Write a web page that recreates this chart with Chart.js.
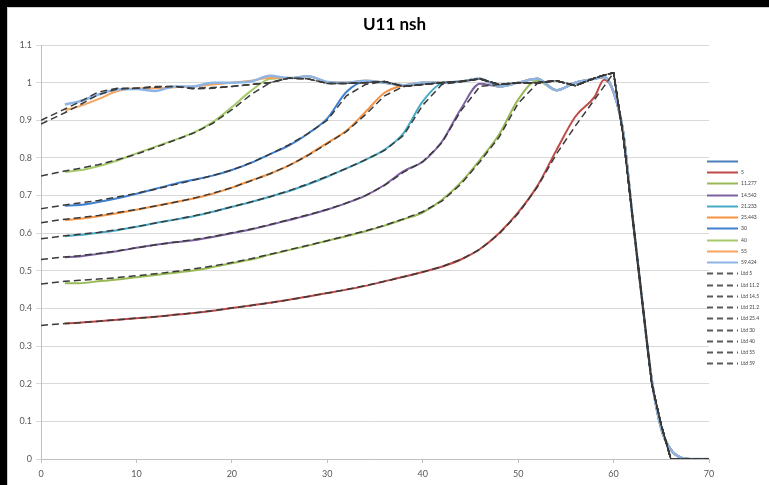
<!DOCTYPE html>
<html><head><meta charset="utf-8">
<script src="https://cdn.jsdelivr.net/npm/chart.js@4/dist/chart.umd.min.js"></script>
<style>
html,body{margin:0;padding:0;background:#000;width:769px;height:485px;overflow:hidden}
#wrap{position:absolute;left:7px;top:7px;width:761px;height:477px;background:#fff;border-left:1px solid #cfcfcf;border-top:1px solid #cfcfcf}
canvas{display:block}
</style></head><body>
<div id="wrap"><canvas id="c" width="761" height="477"></canvas></div>
<script>
const chartTitle = 'U11 nsh';
const xTicks = [0, 10, 20, 30, 40, 50, 60, 70];
const yTicks = [0, 0.1, 0.2, 0.3, 0.4, 0.5, 0.6, 0.7, 0.8, 0.9, 1, 1.1];
const yTickLabels = ['0', '0.1', '0.2', '0.3', '0.4', '0.5', '0.6', '0.7', '0.8', '0.9', '1', '1.1'];

const xValues = [0, 2.5, 4, 6, 8, 10, 12, 14, 16, 18, 20, 22, 24, 26, 28, 30, 32, 34, 36, 38, 40, 42, 44, 46, 48, 50, 52, 54, 56, 58, 59, 60, 61, 62, 63, 64, 65, 66, 67, 68, 70];

const solidLabels = ['', '5', '11.277', '14.542', '21.233', '25.443', '30', '40', '55', '59.424'];
const ltdLabels = ['Ltd 5', 'Ltd 11.2', 'Ltd 14.5', 'Ltd 21.2', 'Ltd 25.4', 'Ltd 30', 'Ltd 40', 'Ltd 55', 'Ltd 59'];

const sBlank = [];
const s5  = [null, 0.360, 0.362, 0.366, 0.370, 0.374, 0.378, 0.383, 0.388, 0.394, 0.401, 0.408, 0.415, 0.423, 0.432, 0.441, 0.450, 0.460, 0.472, 0.484, 0.497, 0.511, 0.530, 0.558, 0.600, 0.655, 0.725, 0.820, 0.910, 0.962, 1.008, 0.975, 0.870, 0.640, 0.420, 0.210, 0.080, 0.025, 0.004, 0, 0];
const s11 = [null, 0.467, 0.467, 0.472, 0.477, 0.483, 0.489, 0.495, 0.501, 0.510, 0.520, 0.530, 0.543, 0.555, 0.567, 0.580, 0.592, 0.605, 0.620, 0.637, 0.655, 0.688, 0.735, 0.795, 0.862, 0.955, 1.005, 0.980, 1.000, 1.010, 1.015, 0.975, 0.870, 0.640, 0.420, 0.210, 0.080, 0.025, 0.004, 0, 0];
const s14 = [null, 0.536, 0.538, 0.545, 0.552, 0.561, 0.569, 0.576, 0.581, 0.590, 0.600, 0.610, 0.622, 0.635, 0.648, 0.663, 0.680, 0.700, 0.728, 0.765, 0.790, 0.843, 0.930, 0.997, 0.990, 1.000, 1.010, 0.980, 1.000, 1.010, 1.015, 0.975, 0.870, 0.640, 0.420, 0.210, 0.080, 0.025, 0.004, 0, 0];
const s21 = [null, 0.592, 0.595, 0.601, 0.608, 0.617, 0.627, 0.636, 0.645, 0.657, 0.670, 0.683, 0.697, 0.712, 0.730, 0.750, 0.772, 0.795, 0.822, 0.866, 0.950, 0.998, 1.003, 1.010, 0.990, 1.000, 1.010, 0.980, 1.000, 1.010, 1.015, 0.975, 0.870, 0.640, 0.420, 0.210, 0.080, 0.025, 0.004, 0, 0];
const s25 = [null, 0.635, 0.638, 0.645, 0.653, 0.662, 0.672, 0.682, 0.692, 0.705, 0.721, 0.740, 0.758, 0.780, 0.808, 0.840, 0.872, 0.922, 0.973, 0.993, 1.000, 1.000, 1.003, 1.010, 0.990, 1.000, 1.010, 0.980, 1.000, 1.010, 1.015, 0.975, 0.870, 0.640, 0.420, 0.210, 0.080, 0.025, 0.004, 0, 0];
const s30 = [null, 0.673, 0.675, 0.683, 0.693, 0.705, 0.718, 0.731, 0.742, 0.753, 0.768, 0.787, 0.810, 0.833, 0.865, 0.905, 0.975, 1.003, 1.000, 0.993, 1.000, 1.000, 1.003, 1.010, 0.990, 1.000, 1.010, 0.980, 1.000, 1.010, 1.015, 0.975, 0.870, 0.640, 0.420, 0.210, 0.080, 0.025, 0.004, 0, 0];
const s40 = [null, 0.763, 0.767, 0.778, 0.793, 0.812, 0.830, 0.848, 0.867, 0.895, 0.935, 0.978, 1.010, 1.012, 1.017, 1.002, 1.000, 1.005, 1.000, 0.993, 1.000, 1.000, 1.003, 1.010, 0.990, 1.000, 1.010, 0.980, 1.000, 1.010, 1.015, 0.975, 0.870, 0.640, 0.420, 0.210, 0.080, 0.025, 0.004, 0, 0];
const s55 = [null, 0.927, 0.937, 0.956, 0.978, 0.985, 0.985, 0.988, 0.990, 0.995, 1.000, 1.005, 1.012, 1.012, 1.017, 1.002, 1.000, 1.005, 1.000, 0.993, 1.000, 1.000, 1.003, 1.010, 0.990, 1.000, 1.010, 0.980, 1.000, 1.010, 1.015, 0.975, 0.870, 0.640, 0.420, 0.210, 0.080, 0.025, 0.004, 0, 0];
const s59 = [null, 0.942, 0.950, 0.968, 0.982, 0.983, 0.978, 0.990, 0.990, 1.000, 1.000, 1.003, 1.018, 1.012, 1.017, 1.002, 1.000, 1.005, 1.000, 0.993, 1.000, 1.000, 1.003, 1.010, 0.990, 1.000, 1.010, 0.980, 1.000, 1.010, 1.015, 0.975, 0.870, 0.640, 0.420, 0.210, 0.080, 0.025, 0.004, 0, 0];

const ltd5  = [0.355, 0.360, 0.362, 0.366, 0.370, 0.374, 0.378, 0.383, 0.388, 0.394, 0.401, 0.408, 0.415, 0.423, 0.432, 0.441, 0.450, 0.461, 0.472, 0.484, 0.497, 0.511, 0.530, 0.557, 0.598, 0.652, 0.722, 0.810, 0.885, 0.955, 0.990, 1.026, 0.860, 0.640, 0.420, 0.200, 0.090, 0, 0, 0, 0];
const ltd11 = [0.465, 0.472, 0.475, 0.478, 0.482, 0.487, 0.492, 0.498, 0.505, 0.513, 0.522, 0.532, 0.544, 0.556, 0.568, 0.580, 0.593, 0.606, 0.621, 0.638, 0.657, 0.685, 0.730, 0.790, 0.855, 0.945, 0.998, 1.005, 0.992, 1.012, 1.020, 1.026, 0.860, 0.640, 0.420, 0.200, 0.090, 0, 0, 0, 0];
const ltd14 = [0.530, 0.537, 0.540, 0.546, 0.553, 0.561, 0.569, 0.576, 0.583, 0.591, 0.601, 0.611, 0.623, 0.636, 0.649, 0.663, 0.680, 0.700, 0.727, 0.762, 0.790, 0.840, 0.925, 0.990, 0.995, 1.000, 1.000, 1.005, 0.992, 1.012, 1.020, 1.026, 0.860, 0.640, 0.420, 0.200, 0.090, 0, 0, 0, 0];
const ltd21 = [0.585, 0.593, 0.597, 0.602, 0.609, 0.617, 0.627, 0.636, 0.646, 0.657, 0.670, 0.683, 0.697, 0.713, 0.731, 0.751, 0.772, 0.795, 0.820, 0.860, 0.940, 0.995, 1.003, 1.010, 0.995, 1.000, 1.000, 1.005, 0.992, 1.012, 1.020, 1.026, 0.860, 0.640, 0.420, 0.200, 0.090, 0, 0, 0, 0];
const ltd25 = [0.628, 0.637, 0.641, 0.647, 0.655, 0.663, 0.672, 0.682, 0.693, 0.706, 0.721, 0.739, 0.758, 0.780, 0.807, 0.838, 0.870, 0.915, 0.965, 0.990, 0.995, 1.000, 1.003, 1.010, 0.995, 1.000, 1.000, 1.005, 0.992, 1.012, 1.020, 1.026, 0.860, 0.640, 0.420, 0.200, 0.090, 0, 0, 0, 0];
const ltd30 = [0.665, 0.675, 0.680, 0.687, 0.696, 0.706, 0.717, 0.729, 0.741, 0.753, 0.768, 0.787, 0.810, 0.835, 0.865, 0.900, 0.965, 0.995, 1.003, 0.990, 0.995, 1.000, 1.003, 1.010, 0.995, 1.000, 1.000, 1.005, 0.992, 1.012, 1.020, 1.026, 0.860, 0.640, 0.420, 0.200, 0.090, 0, 0, 0, 0];
const ltd40 = [0.752, 0.765, 0.772, 0.782, 0.795, 0.810, 0.828, 0.847, 0.866, 0.892, 0.928, 0.968, 1.000, 1.012, 1.010, 0.998, 0.998, 1.000, 1.003, 0.990, 0.995, 1.000, 1.003, 1.010, 0.995, 1.000, 1.000, 1.005, 0.992, 1.012, 1.020, 1.026, 0.860, 0.640, 0.420, 0.200, 0.090, 0, 0, 0, 0];
const ltd55 = [0.890, 0.920, 0.940, 0.968, 0.983, 0.985, 0.988, 0.990, 0.983, 0.985, 0.990, 0.995, 1.000, 1.012, 1.010, 0.998, 0.998, 1.000, 1.003, 0.990, 0.995, 1.000, 1.003, 1.010, 0.995, 1.000, 1.000, 1.005, 0.992, 1.012, 1.020, 1.026, 0.860, 0.640, 0.420, 0.200, 0.090, 0, 0, 0, 0];
const ltd59 = [0.900, 0.930, 0.948, 0.975, 0.985, 0.985, 0.990, 0.990, 0.985, 0.987, 0.990, 0.995, 1.000, 1.012, 1.010, 0.998, 0.998, 1.000, 1.003, 0.990, 0.995, 1.000, 1.003, 1.010, 0.995, 1.000, 1.000, 1.005, 0.992, 1.012, 1.020, 1.026, 0.860, 0.640, 0.420, 0.200, 0.090, 0, 0, 0, 0];

const solidSeries = [sBlank, s5, s11, s14, s21, s25, s30, s40, s55, s59];
const ltdSeries = [ltd5, ltd11, ltd14, ltd21, ltd25, ltd30, ltd40, ltd55, ltd59];
const solidColors = ['#4a7ebb', '#be4b48', '#98b954', '#7d60a0', '#46aac5', '#f69240', '#3f7fcf', '#a6c96a', '#f8a35e', '#8eb4e3'];
const ltdColor = '#3a3a3a';

function pts(ys) {
  const out = [];
  ys.forEach((y, i) => { if (y !== null) out.push({ x: xValues[i], y: y }); });
  return out;
}

const datasets = [];
solidSeries.forEach((arr, i) => {
  datasets.push({
    label: solidLabels[i], data: pts(arr), borderColor: solidColors[i], backgroundColor: solidColors[i],
    borderWidth: i === 9 ? 2.5 : 2, pointRadius: 0, cubicInterpolationMode: 'monotone', fill: false
  });
});
ltdSeries.forEach((arr, i) => {
  datasets.push({
    label: ltdLabels[i], data: pts(arr), borderColor: ltdColor, backgroundColor: ltdColor,
    borderWidth: 1.5, borderDash: [7, 4], pointRadius: 0, tension: 0, fill: false, isLtd: true
  });
});
datasets.forEach((d, i) => { d.order = 100 - i; });

const overlay = {
  id: 'overlay',
  afterDraw(chart) {
    const ctx = chart.ctx;
    ctx.save();
    ctx.fillStyle = '#000';
    ctx.font = 'bold 17px Lato';
    ctx.textAlign = 'center';
    ctx.textBaseline = 'middle';
    ctx.fillText(chartTitle, 386.5, 17);
    ctx.font = '5px Lato';
    ctx.textAlign = 'left';
    chart.data.datasets.forEach((d, i) => {
      const y = Math.round(153 + i * 11.24) + 0.5;
      ctx.beginPath();
      ctx.strokeStyle = d.isLtd ? '#5a5a5a' : d.borderColor;
      ctx.lineWidth = 2;
      ctx.setLineDash(d.isLtd ? [6, 4] : []);
      ctx.moveTo(699, y); ctx.lineTo(730, y);
      ctx.stroke();
      ctx.setLineDash([]);
      ctx.fillStyle = '#404040';
      ctx.fillText(d.label, 733, y);
    });
    ctx.restore();
  }
};

new Chart(document.getElementById('c'), {
  type: 'line',
  data: { datasets },
  plugins: [overlay],
  options: {
    responsive: false, animation: false, devicePixelRatio: 1,
    layout: { padding: { left: 0, top: 37, right: 60, bottom: 0 } },
    plugins: { legend: { display: false }, title: { display: false }, tooltip: { enabled: false } },
    scales: {
      x: {
        type: 'linear', min: 0, max: 70,
        afterBuildTicks: s => { s.ticks = xTicks.map(v => ({ value: v })); },
        afterFit: s => { s.height = 26; },
        grid: { display: true, drawOnChartArea: false, drawTicks: true, tickLength: 4, color: '#bfbfbf' },
        border: { display: true, color: '#bfbfbf' },
        ticks: { font: { family: 'Lato', size: 9 }, color: '#595959', padding: 6, maxRotation: 0, callback: v => String(v) }
      },
      y: {
        type: 'linear', min: 0, max: 1.1,
        afterBuildTicks: s => { s.ticks = yTicks.map(v => ({ value: v })); },
        afterFit: s => { s.width = 33; },
        grid: { color: '#d9d9d9', tickLength: 5 },
        border: { display: true, color: '#bfbfbf' },
        ticks: { font: { family: 'Lato', size: 9 }, color: '#595959', padding: 4, callback: (v, i) => yTickLabels[i] }
      }
    }
  }
});
</script>
</body></html>
